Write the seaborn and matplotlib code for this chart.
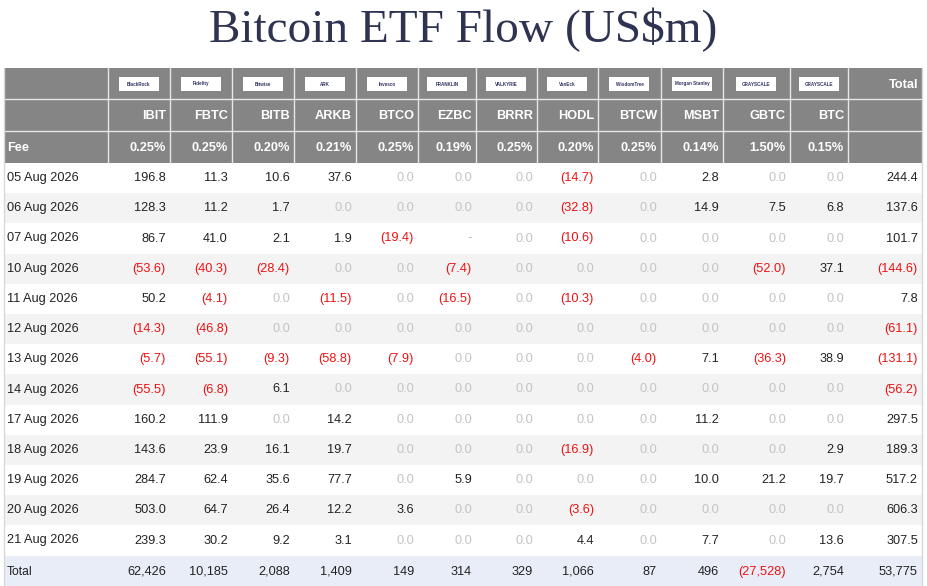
import numpy as np
import pandas as pd
import seaborn as sns
import matplotlib.pyplot as plt
from matplotlib.patches import Rectangle

tickers = ['IBIT', 'FBTC', 'BITB', 'ARKB', 'BTCO', 'EZBC', 'BRRR', 'HODL',
           'BTCW', 'MSBT', 'GBTC', 'BTC']
issuers = ['BlackRock', 'Fidelity', 'Bitwise', 'ARK', 'Invesco', 'FRANKLIN',
           'VALKYRIE', 'VanEck', 'WisdomTree', 'Morgan Stanley', 'GRAYSCALE', 'GRAYSCALE']
fees = [0.25, 0.25, 0.20, 0.21, 0.25, 0.19, 0.25, 0.20, 0.25, 0.14, 1.50, 0.15]
dates = ['05 Aug 2026', '06 Aug 2026', '07 Aug 2026', '10 Aug 2026', '11 Aug 2026',
         '12 Aug 2026', '13 Aug 2026', '14 Aug 2026', '17 Aug 2026', '18 Aug 2026',
         '19 Aug 2026', '20 Aug 2026', '21 Aug 2026']
flows = [
    [196.8, 11.3, 10.6, 37.6, 0, 0, 0, -14.7, 0, 2.8, 0, 0],
    [128.3, 11.2, 1.7, 0, 0, 0, 0, -32.8, 0, 14.9, 7.5, 6.8],
    [86.7, 41.0, 2.1, 1.9, -19.4, np.nan, 0, -10.6, 0, 0, 0, 0],
    [-53.6, -40.3, -28.4, 0, 0, -7.4, 0, 0, 0, 0, -52.0, 37.1],
    [50.2, -4.1, 0, -11.5, 0, -16.5, 0, -10.3, 0, 0, 0, 0],
    [-14.3, -46.8, 0, 0, 0, 0, 0, 0, 0, 0, 0, 0],
    [-5.7, -55.1, -9.3, -58.8, -7.9, 0, 0, 0, -4.0, 7.1, -36.3, 38.9],
    [-55.5, -6.8, 6.1, 0, 0, 0, 0, 0, 0, 0, 0, 0],
    [160.2, 111.9, 0, 14.2, 0, 0, 0, 0, 0, 11.2, 0, 0],
    [143.6, 23.9, 16.1, 19.7, 0, 0, 0, -16.9, 0, 0, 0, 2.9],
    [284.7, 62.4, 35.6, 77.7, 0, 5.9, 0, 0, 0, 10.0, 21.2, 19.7],
    [503.0, 64.7, 26.4, 12.2, 3.6, 0, 0, -3.6, 0, 0, 0, 0],
    [239.3, 30.2, 9.2, 3.1, 0, 0, 0, 4.4, 0, 7.7, 0, 13.6],
]
row_totals = [244.4, 137.6, 101.7, -144.6, 7.8, -61.1, -131.1, -56.2, 297.5,
              189.3, 517.2, 606.3, 307.5]
col_totals = [62426, 10185, 2088, 1409, 149, 314, 329, 1066, 87, 496, -27528, 2754]
grand_total = 53775

df = pd.DataFrame(flows, index=dates, columns=tickers)
df['Total'] = row_totals

sns.set_theme(style='white')
plt.rcParams['font.family'] = ['Liberation Sans', 'DejaVu Sans']

W, H = 927, 586
fig = plt.figure(figsize=(W / 100, H / 100), dpi=100)
ax = fig.add_axes([0, 0, 1, 1])
ax.set_xlim(0, W)
ax.set_ylim(H, 0)
ax.axis('off')

edges = [4, 108, 170, 232, 294, 356, 418, 476, 537, 598, 661, 723, 790, 848, 922]
hdr = [68, 99, 131, 163]
row_h = 30.2
body_top = 163
total_top = body_top + row_h * len(dates)

HGREY = '#858585'
fs = 9.2


def fmt(v, big=False):
    if pd.isna(v):
        return '-', '#b0b0b0'
    if v == 0:
        return '0.0', '#c4c4c4'
    s = f'{abs(v):,.0f}' if big else f'{abs(v):.1f}'
    if v < 0:
        return f'({s})', '#ee1111'
    return s, '#222222'


ax.text(W / 2, 30, 'Bitcoin ETF Flow (US\\$m)', ha='center', va='center',
        fontsize=34, family='Liberation Serif', color='#2f3352')

# header block
ax.add_patch(Rectangle((edges[0], hdr[0]), edges[-1] - edges[0], hdr[3] - hdr[0],
                       facecolor=HGREY, edgecolor='none'))
for x in edges[1:-1]:
    ax.plot([x, x], [hdr[0], hdr[3]], color='#e6e6e6', lw=1)
for y in hdr[1:3]:
    ax.plot([edges[0], edges[-1]], [y, y], color='#e6e6e6', lw=1)

for i, t in enumerate(tickers):
    x0, x1 = edges[i + 1], edges[i + 2]
    cx = (x0 + x1) / 2
    ax.add_patch(Rectangle((cx - 20, 77), 40, 14, facecolor='white', edgecolor='none'))
    ax.text(cx, 84, issuers[i], ha='center', va='center', fontsize=3.3,
            color='#333366', weight='bold')
    ax.text(x1 - 4, 116, t, ha='right', va='center', fontsize=fs,
            color='white', weight='bold')
    ax.text(x1 - 4, 148, f'{fees[i]:.2f}%', ha='right', va='center', fontsize=fs,
            color='white', weight='bold')
ax.text(edges[-1] - 4, 85, 'Total', ha='right', va='center', fontsize=fs,
        color='white', weight='bold')
ax.text(edges[0] + 3, 148, 'Fee', ha='left', va='center', fontsize=fs,
        color='white', weight='bold')

# body rows
for r, d in enumerate(dates):
    y0 = body_top + r * row_h
    ax.add_patch(Rectangle((edges[0], y0), edges[-1] - edges[0], row_h,
                           facecolor='white' if r % 2 == 0 else '#f3f3f3',
                           edgecolor='none'))
    cy = y0 + row_h / 2
    ax.text(edges[0] + 3, cy, d, ha='left', va='center', fontsize=fs, color='#222222')
    for c, col in enumerate(df.columns):
        s, colr = fmt(df.loc[d, col])
        ax.text(edges[c + 2] - 4, cy, s, ha='right', va='center', fontsize=fs, color=colr)

# totals row
ax.add_patch(Rectangle((edges[0], total_top), edges[-1] - edges[0], H - total_top,
                       facecolor='#e9edf8', edgecolor='none'))
cy = total_top + 16
ax.text(edges[0] + 3, cy, 'Total', ha='left', va='center', fontsize=fs - 0.5, color='#222222')
for c, v in enumerate(col_totals + [grand_total]):
    s, colr = fmt(v, big=True)
    ax.text(edges[c + 2] - 4, cy, s, ha='right', va='center', fontsize=fs, color=colr)

ax.plot([edges[0], edges[0]], [hdr[0], H], color='#d8d8d8', lw=1)
ax.plot([edges[-1], edges[-1]], [hdr[0], H], color='#d8d8d8', lw=1)

fig.savefig('out.png', dpi=100)
